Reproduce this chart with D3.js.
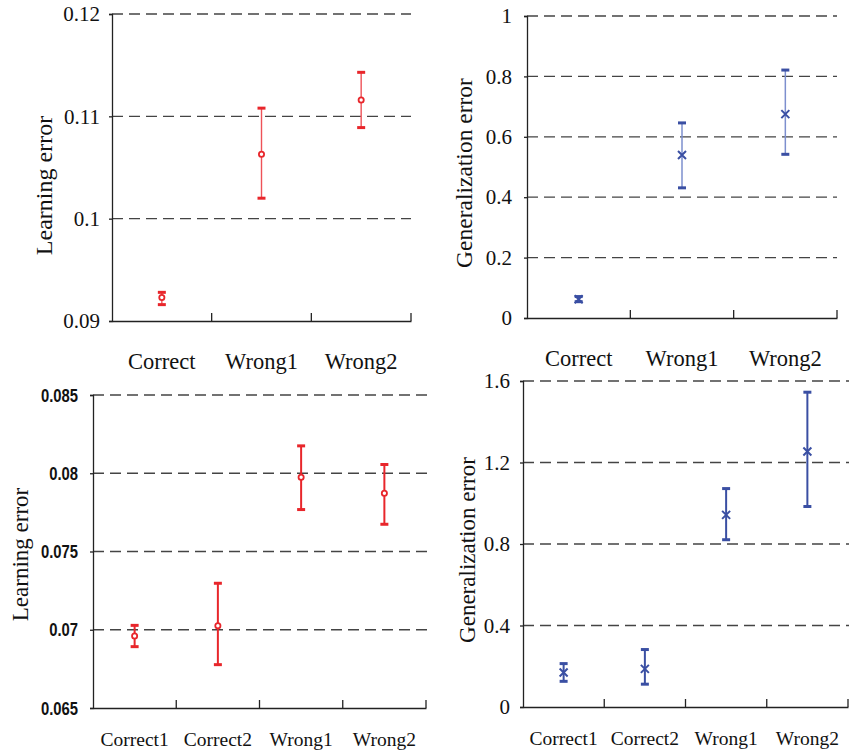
<!DOCTYPE html>
<html>
<head>
<meta charset="utf-8">
<script src="https://cdn.jsdelivr.net/npm/d3@7"></script>
<style>
  body { margin: 0; background: #fff; }
  svg { display: block; }
</style>
</head>
<body>
<div id="chart"></div>
<script>
// categories
var catsTop = ["Correct", "Wrong1", "Wrong2"];
var catsBottom = ["Correct1", "Correct2", "Wrong1", "Wrong2"];

// top-left: learning error
var learnTopMean = [0.0923, 0.1063, 0.1116];
var learnTopLow  = [0.0916, 0.1020, 0.1089];
var learnTopHigh = [0.0928, 0.1108, 0.1143];
var learnTopTicks = [0.09, 0.1, 0.11, 0.12];

// top-right: generalization error
var genTopMean = [0.062, 0.540, 0.675];
var genTopLow  = [0.054, 0.431, 0.542];
var genTopHigh = [0.071, 0.646, 0.821];
var genTopTicks = [0, 0.2, 0.4, 0.6, 0.8, 1];

// bottom-left: learning error
var learnBotMean = [0.06960, 0.07026, 0.07974, 0.07872];
var learnBotLow  = [0.06892, 0.06777, 0.07768, 0.07674];
var learnBotHigh = [0.07028, 0.07297, 0.08175, 0.08056];
var learnBotTicks = [0.065, 0.07, 0.075, 0.08, 0.085];

// bottom-right: generalization error
var genBotMean = [0.169, 0.187, 0.943, 1.254];
var genBotLow  = [0.126, 0.112, 0.821, 0.984];
var genBotHigh = [0.213, 0.282, 1.072, 1.545];
var genBotTicks = [0, 0.4, 0.8, 1.2, 1.6];

var width = 849, height = 752;
var red = "#e8262b", blue = "#3a4fa3";

var svg = d3.select("#chart").append("svg")
    .attr("width", width).attr("height", height);

var serif = "'Liberation Serif', 'Times New Roman', serif";

function panel(o) {
    var g = svg.append("g");
    var x = d3.scaleBand().domain(o.cats).range([o.x0, o.x1]).padding(0);
    var y = d3.scaleLinear().domain(o.domain).range([o.y1, o.y0]);

    // dashed grid lines
    g.append("g").selectAll("line")
        .data(o.ticks.filter(function(t){ return t !== o.domain[0]; }))
        .enter().append("line")
        .attr("x1", o.x0).attr("x2", o.gridEnd)
        .attr("y1", function(d){ return y(d); })
        .attr("y2", function(d){ return y(d); })
        .attr("stroke", "#444").attr("stroke-width", 1.3)
        .attr("stroke-dasharray", "11,6");

    // y axis
    var ya = g.append("g").attr("transform", "translate(" + o.x0 + ",0)")
        .call(d3.axisLeft(y).tickValues(o.ticks).tickSize(3)
              .tickPadding(o.tickPad).tickFormat(o.fmt));
    ya.select(".domain").attr("stroke", "#222").attr("stroke-width", 1.3);
    ya.selectAll(".tick line").attr("stroke", "#222").attr("stroke-width", 1.3);
    ya.selectAll("text").attr("fill", "#111")
        .style("font-family", o.tickFont).style("font-size", o.tickSize + "px")
        .style("font-weight", o.tickWeight || "normal");
    if (o.squeeze) {
        ya.selectAll("text")
            .attr("transform", "scale(" + o.squeeze + ",1)")
            .attr("x", -(3 + o.tickPad) / o.squeeze);
    }

    // x axis
    var xa = g.append("g").attr("transform", "translate(0," + o.y1 + ")")
        .call(d3.axisBottom(x).tickSize(0).tickPadding(o.labelPad));
    xa.select(".domain").attr("stroke", "#222").attr("stroke-width", 1.3);
    xa.selectAll("text").attr("fill", "#111")
        .style("font-family", serif).style("font-size", o.labelSize + "px");
    // inward ticks at band edges
    g.append("g").selectAll("line").data(o.cats).enter().append("line")
        .attr("x1", function(d){ return x(d) + x.bandwidth(); })
        .attr("x2", function(d){ return x(d) + x.bandwidth(); })
        .attr("y1", o.y1).attr("y2", o.y1 - 8)
        .attr("stroke", "#222").attr("stroke-width", 1.3);

    // y label
    g.append("text")
        .attr("transform", "translate(" + o.labelX + "," + ((o.y0 + o.y1) / 2 + o.labelDy) + ") rotate(-90)")
        .attr("text-anchor", "middle").attr("dominant-baseline", "middle")
        .attr("fill", "#111")
        .style("font-family", serif).style("font-size", o.ylabelSize + "px")
        .text(o.ylabel);

    // error bars
    var cx = function(i){ return x(o.cats[i]) + x.bandwidth() / 2; };
    var bars = g.append("g").selectAll("g").data(o.mean).enter().append("g");
    bars.append("line")
        .attr("x1", function(d, i){ return cx(i); })
        .attr("x2", function(d, i){ return cx(i); })
        .attr("y1", function(d, i){ return y(o.low[i]); })
        .attr("y2", function(d, i){ return y(o.high[i]); })
        .attr("stroke", o.lineColor).attr("stroke-width", o.lineWidth);
    [o.low, o.high].forEach(function(arr) {
        bars.append("line")
            .attr("x1", function(d, i){ return cx(i) - 4; })
            .attr("x2", function(d, i){ return cx(i) + 4; })
            .attr("y1", function(d, i){ return y(arr[i]); })
            .attr("y2", function(d, i){ return y(arr[i]); })
            .attr("stroke", o.color).attr("stroke-width", 3);
    });
    if (o.marker === "circle") {
        bars.append("circle")
            .attr("cx", function(d, i){ return cx(i); })
            .attr("cy", function(d){ return y(d); })
            .attr("r", 2.6)
            .attr("fill", "#fff").attr("stroke", o.color).attr("stroke-width", 1.8);
    } else {
        bars.append("path")
            .attr("d", function(d, i){
                var px = cx(i), py = y(d), s = 4;
                return "M" + (px - s) + "," + (py - s) + "L" + (px + s) + "," + (py + s) +
                       "M" + (px - s) + "," + (py + s) + "L" + (px + s) + "," + (py - s);
            })
            .attr("stroke", o.color).attr("stroke-width", 2).attr("fill", "none");
    }
}

var fmtPlain = function(d){ return String(d); };

panel({
    cats: catsTop, mean: learnTopMean, low: learnTopLow, high: learnTopHigh,
    domain: [0.09, 0.12], ticks: learnTopTicks, fmt: fmtPlain,
    x0: 112, x1: 411, y0: 14, y1: 321, gridEnd: 411,
    tickFont: serif, tickSize: 21, tickPad: 9,
    labelSize: 22.5, labelPad: 32,
    ylabel: "Learning error", labelX: 46, labelDy: 18, ylabelSize: 24,
    color: red, lineColor: "#ee5258", lineWidth: 1.4, marker: "circle"
});

panel({
    cats: catsTop, mean: genTopMean, low: genTopLow, high: genTopHigh,
    domain: [0, 1], ticks: genTopTicks, fmt: fmtPlain,
    x0: 527, x1: 837, y0: 16, y1: 318, gridEnd: 837,
    tickFont: serif, tickSize: 21, tickPad: 12,
    labelSize: 22.5, labelPad: 32,
    ylabel: "Generalization error", labelX: 467, labelDy: 6, ylabelSize: 23.5,
    color: blue, lineColor: "#7d8fce", lineWidth: 1.5, marker: "x"
});

panel({
    cats: catsBottom, mean: learnBotMean, low: learnBotLow, high: learnBotHigh,
    domain: [0.065, 0.085], ticks: learnBotTicks, fmt: fmtPlain,
    x0: 93, x1: 426, y0: 395, y1: 708, gridEnd: 430,
    tickFont: "'Liberation Sans', Arial, sans-serif", tickSize: 19, tickWeight: "bold",
    tickPad: 12, squeeze: 0.78,
    labelSize: 19.5, labelPad: 24,
    ylabel: "Learning error", labelX: 23, labelDy: 3, ylabelSize: 23,
    color: red, lineColor: red, lineWidth: 2, marker: "circle"
});

panel({
    cats: catsBottom, mean: genBotMean, low: genBotLow, high: genBotHigh,
    domain: [0, 1.6], ticks: genBotTicks, fmt: fmtPlain,
    x0: 523, x1: 848, y0: 381, y1: 707, gridEnd: 849,
    tickFont: serif, tickSize: 21, tickPad: 10,
    labelSize: 19.5, labelPad: 24,
    ylabel: "Generalization error", labelX: 470, labelDy: 6, ylabelSize: 23,
    color: blue, lineColor: blue, lineWidth: 2, marker: "x"
});
</script>
</body>
</html>
